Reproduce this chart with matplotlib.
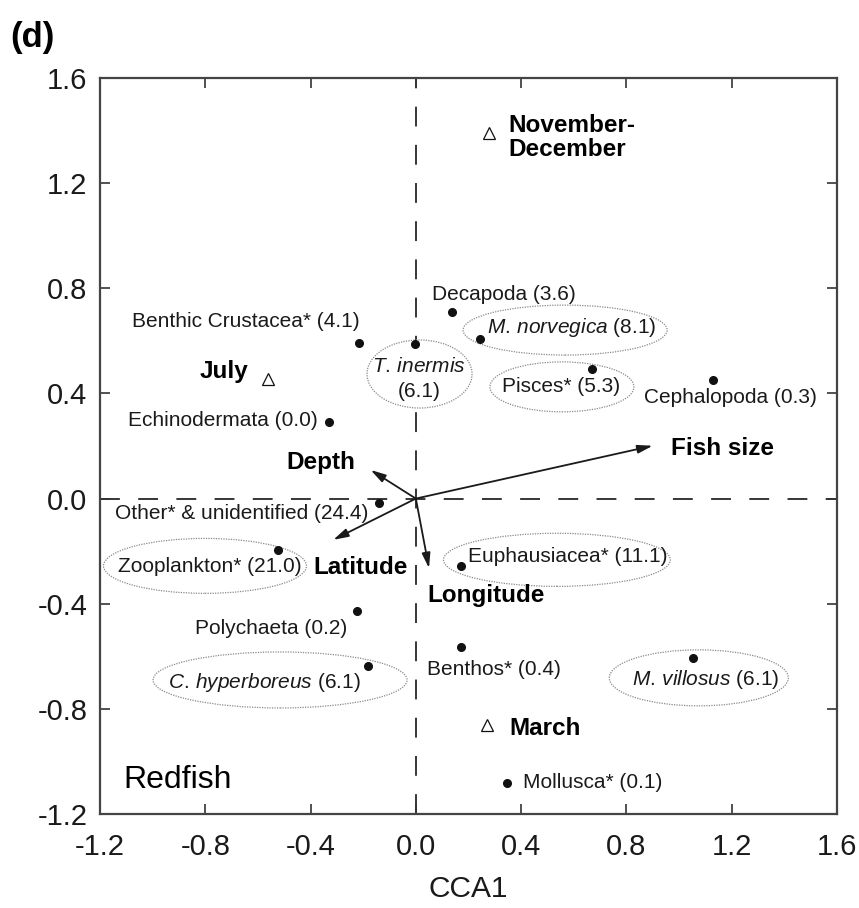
import matplotlib
matplotlib.use("Agg")
import matplotlib.pyplot as plt
from matplotlib.patches import Ellipse


# Style

plt.rcParams["font.family"] = ["Liberation Sans", "DejaVu Sans"]
plt.rcParams["mathtext.fontset"] = "custom"
plt.rcParams["mathtext.rm"] = "Liberation Sans"
plt.rcParams["mathtext.it"] = "Liberation Sans:italic"
plt.rcParams["mathtext.bf"] = "Liberation Sans:bold"
plt.rcParams["axes.unicode_minus"] = False


# Prey scores (CCA1, CCA2) and % of diet

prey = ["Decapoda", "Benthic Crustacea*", "M. norvegica", "T. inermis", "Pisces*",
        "Cephalopoda", "Echinodermata", "Other* & unidentified", "Zooplankton*",
        "Euphausiacea*", "Polychaeta", "C. hyperboreus", "Benthos*", "M. villosus",
        "Mollusca*"]
prey_pct = ["3.6", "4.1", "8.1", "6.1", "5.3", "0.3", "0.0", "24.4", "21.0",
            "11.1", "0.2", "6.1", "0.4", "6.1", "0.1"]
prey_x = [0.136, -0.215, 0.244, -0.003, 0.670, 1.130, -0.330, -0.140, -0.523,
          0.171, -0.223, -0.181, 0.171, 1.054, 0.345]
prey_y = [0.709, 0.591, 0.607, 0.588, 0.493, 0.451, 0.293, -0.016, -0.196,
          -0.256, -0.428, -0.637, -0.563, -0.605, -1.081]
prey_italic = [False, False, True, True, False, False, False, False, False,
               False, False, True, False, True, False]

# Season centroids

months = ["November-\nDecember", "July", "March"]
month_x = [0.279, -0.562, 0.269]
month_y = [1.390, 0.455, -0.861]

# Environmental vectors

env = ["Fish size", "Depth", "Latitude", "Longitude"]
env_x = [0.900, -0.172, -0.314, 0.050]
env_y = [0.201, 0.109, -0.157, -0.265]


# Label layout (offset from point, alignment)

prey_lab = [(-0.076, 0.069, "left"), (0.002, 0.081, "right"), (0.026, 0.042, "left"),
            (0.016, -0.132, "center"), (-0.343, -0.065, "left"), (-0.263, -0.067, "left"),
            (-0.041, 0.003, "right"), (-0.042, -0.040, "right"), (-0.261, -0.063, "center"),
            (0.026, 0.035, "left"), (-0.038, -0.065, "right"), (-0.394, -0.063, "center"),
            (-0.130, -0.089, "left"), (0.048, -0.085, "center"), (0.062, 0.0, "left")]
month_lab = [(0.071, -0.017, "left"), (-0.075, 0.028, "right"), (0.085, -0.012, "left")]
env_lab = [(0.068, -0.012, "left"), (-0.189, 0.029, "center"),
           (-0.077, -0.106, "left"), (-0.005, -0.102, "left")]

# Dotted ellipses round the main prey (centre, width, height)

ellipses = [(0.567, 0.641, 0.775, 0.190), (0.014, 0.474, 0.399, 0.259),
            (0.555, 0.425, 0.547, 0.190), (-0.801, -0.256, 0.771, 0.209),
            (0.536, -0.233, 0.862, 0.202), (-0.516, -0.690, 0.965, 0.213),
            (1.075, -0.682, 0.680, 0.213)]


# Plot

fig = plt.figure(figsize=(8.59, 9.08), dpi=100)
ax = fig.add_axes([0.1164, 0.1035, 0.858, 0.8106])

ax.axhline(0, color="black", lw=1.1, ls=(0, (13, 12)), zorder=1)
ax.axvline(0, color="black", lw=1.1, ls=(0, (13, 12)), zorder=1)

for cx, cy, w, h in ellipses:
    ax.add_patch(Ellipse((cx, cy), w, h, fc="white", ec="#8a8a8a", lw=0.9,
                         ls=(0, (1, 1)), zorder=2))

ax.plot(prey_x, prey_y, "o", color="#111111", ms=5.5, zorder=4)
ax.plot(month_x, month_y, "^", mfc="white", mec="#111111", mew=0.9, ms=8, zorder=4)

for i in range(len(prey)):
    name = prey[i]
    if prey_italic[i]:
        name = r"$\it{" + name.replace(" ", r"\,") + "}$"
    txt = name + " (" + prey_pct[i] + ")"
    if prey[i] == "T. inermis":
        txt = name + "\n(" + prey_pct[i] + ")"
    dx, dy, ha = prey_lab[i]
    ax.text(prey_x[i] + dx, prey_y[i] + dy, txt, fontsize=15, ha=ha, va="center",
            color="#1a1a1a", linespacing=1.4, multialignment="center", zorder=5)

for i in range(len(months)):
    dx, dy, ha = month_lab[i]
    ax.text(month_x[i] + dx, month_y[i] + dy, months[i], fontsize=17.5,
            fontweight="bold", ha=ha, va="center", linespacing=1.05, zorder=5)

for i in range(len(env)):
    ax.annotate("", xy=(env_x[i], env_y[i]), xytext=(0, 0),
                arrowprops=dict(arrowstyle="-|>,head_length=0.9,head_width=0.25",
                                color="#1a1a1a", lw=1.3, shrinkA=0, shrinkB=0),
                zorder=3)
    dx, dy, ha = env_lab[i]
    ax.text(env_x[i] + dx, env_y[i] + dy, env[i], fontsize=17.5, fontweight="bold",
            ha=ha, va="center", zorder=5)

ax.text(-1.113, -1.070, "Redfish", fontsize=23, ha="left", va="center")

ax.set_xlim(-1.2, 1.6)
ax.set_ylim(-1.2, 1.6)
ticks = [-1.2, -0.8, -0.4, 0.0, 0.4, 0.8, 1.2, 1.6]
ax.set_xticks(ticks)
ax.set_yticks(ticks)
ax.set_xticklabels([f"{t:.1f}" for t in ticks])
ax.set_yticklabels([f"{t:.1f}" for t in ticks])
ax.tick_params(direction="in", length=7, width=1.2, top=True, right=True,
               labelsize=21, colors="#333333", labelcolor="#1a1a1a")
ax.tick_params(axis="x", pad=14)
ax.tick_params(axis="y", pad=9)
for s in ax.spines.values():
    s.set_linewidth(1.6)
    s.set_color("#444444")

ax.set_xlabel("CCA1", fontsize=21.5, labelpad=10, color="#1a1a1a")
fig.text(0.012, 0.959, "(d)", fontsize=25, fontweight="bold", ha="left", va="center")

plt.savefig("out.png", dpi=100)
